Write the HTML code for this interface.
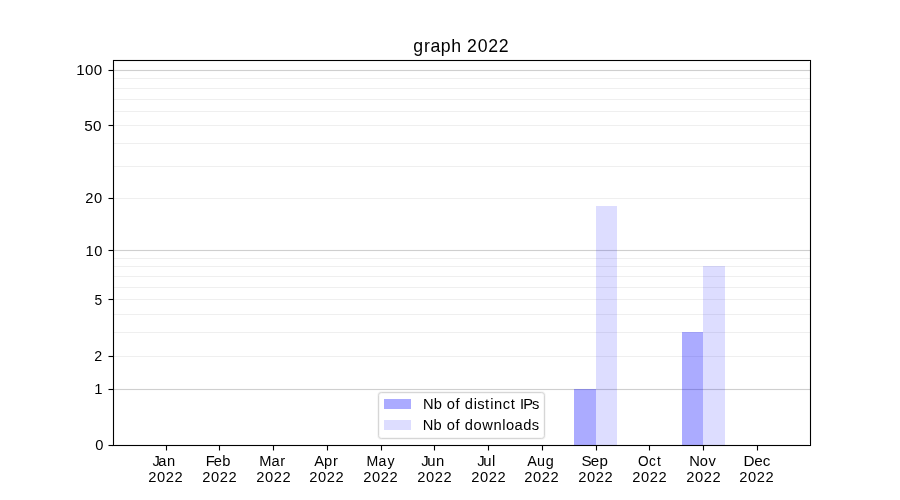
<!DOCTYPE html>
<html><head><meta charset="utf-8"><title>graph 2022</title>
<style>
html,body{margin:0;padding:0;background:#fff;width:900px;height:500px;overflow:hidden}
svg{display:block;will-change:transform}
text{font-family:"Liberation Sans",sans-serif;fill:#000}
</style></head>
<body>
<svg width="900" height="500" viewBox="0 0 900 500" shape-rendering="crispEdges">
<rect x="0" y="0" width="900" height="500" fill="#fff"/>
<rect x="114" y="78" width="696" height="1" fill="#efefef"/>
<rect x="114" y="88" width="696" height="1" fill="#efefef"/>
<rect x="114" y="99" width="696" height="1" fill="#efefef"/>
<rect x="114" y="111" width="696" height="1" fill="#efefef"/>
<rect x="114" y="125" width="696" height="1" fill="#efefef"/>
<rect x="114" y="143" width="696" height="1" fill="#efefef"/>
<rect x="114" y="166" width="696" height="1" fill="#efefef"/>
<rect x="114" y="198" width="696" height="1" fill="#efefef"/>
<rect x="114" y="258" width="696" height="1" fill="#efefef"/>
<rect x="114" y="266" width="696" height="1" fill="#efefef"/>
<rect x="114" y="276" width="696" height="1" fill="#efefef"/>
<rect x="114" y="287" width="696" height="1" fill="#efefef"/>
<rect x="114" y="299" width="696" height="1" fill="#efefef"/>
<rect x="114" y="314" width="696" height="1" fill="#efefef"/>
<rect x="114" y="332" width="696" height="1" fill="#efefef"/>
<rect x="114" y="356" width="696" height="1" fill="#efefef"/>
<rect x="114" y="69" width="696" height="1" fill="#fcfcfc"/>
<rect x="114" y="70" width="696" height="1" fill="#cfcfcf"/>
<rect x="114" y="71" width="696" height="1" fill="#fcfcfc"/>
<rect x="114" y="249" width="696" height="1" fill="#fcfcfc"/>
<rect x="114" y="250" width="696" height="1" fill="#cfcfcf"/>
<rect x="114" y="251" width="696" height="1" fill="#fcfcfc"/>
<rect x="114" y="388" width="696" height="1" fill="#fcfcfc"/>
<rect x="114" y="389" width="696" height="1" fill="#cfcfcf"/>
<rect x="114" y="390" width="696" height="1" fill="#fcfcfc"/>
<rect x="574" y="389" width="22" height="56" fill="#0000ff" fill-opacity="0.33"/>
<rect x="596" y="206" width="21" height="239" fill="#0000ff" fill-opacity="0.133"/>
<rect x="682" y="332" width="21" height="113" fill="#0000ff" fill-opacity="0.33"/>
<rect x="703" y="266" width="22" height="179" fill="#0000ff" fill-opacity="0.133"/>
<rect x="113" y="59" width="698" height="1" fill="#000" fill-opacity="0.055"/>
<rect x="114" y="61" width="695" height="1" fill="#000" fill-opacity="0.055"/>
<rect x="114" y="444" width="695" height="1" fill="#000" fill-opacity="0.055"/>
<rect x="113" y="446" width="698" height="1" fill="#000" fill-opacity="0.055"/>
<rect x="112" y="60" width="1" height="386" fill="#000" fill-opacity="0.055"/>
<rect x="114" y="62" width="1" height="382" fill="#000" fill-opacity="0.055"/>
<rect x="809" y="62" width="1" height="382" fill="#000" fill-opacity="0.055"/>
<rect x="811" y="60" width="1" height="386" fill="#000" fill-opacity="0.055"/>
<rect x="113" y="60" width="698" height="1" fill="#000"/>
<rect x="113" y="445" width="698" height="1" fill="#000"/>
<rect x="113" y="60" width="1" height="386" fill="#000"/>
<rect x="810" y="60" width="1" height="386" fill="#000"/>
<rect x="109" y="69" width="3" height="1" fill="#f1f1f1"/>
<rect x="109" y="71" width="3" height="1" fill="#f1f1f1"/>
<rect x="112" y="69" width="1" height="1" fill="#e3e3e3"/>
<rect x="112" y="71" width="1" height="1" fill="#e3e3e3"/>
<rect x="108" y="69" width="1" height="1" fill="#f8f8f8"/>
<rect x="108" y="71" width="1" height="1" fill="#f8f8f8"/>
<rect x="109" y="70" width="4" height="1" fill="#000"/>
<rect x="108" y="70" width="1" height="1" fill="#7f7f7f"/>
<rect x="109" y="124" width="3" height="1" fill="#f1f1f1"/>
<rect x="109" y="126" width="3" height="1" fill="#f1f1f1"/>
<rect x="112" y="124" width="1" height="1" fill="#e3e3e3"/>
<rect x="112" y="126" width="1" height="1" fill="#e3e3e3"/>
<rect x="108" y="124" width="1" height="1" fill="#f8f8f8"/>
<rect x="108" y="126" width="1" height="1" fill="#f8f8f8"/>
<rect x="109" y="125" width="4" height="1" fill="#000"/>
<rect x="108" y="125" width="1" height="1" fill="#7f7f7f"/>
<rect x="109" y="197" width="3" height="1" fill="#f1f1f1"/>
<rect x="109" y="199" width="3" height="1" fill="#f1f1f1"/>
<rect x="112" y="197" width="1" height="1" fill="#e3e3e3"/>
<rect x="112" y="199" width="1" height="1" fill="#e3e3e3"/>
<rect x="108" y="197" width="1" height="1" fill="#f8f8f8"/>
<rect x="108" y="199" width="1" height="1" fill="#f8f8f8"/>
<rect x="109" y="198" width="4" height="1" fill="#000"/>
<rect x="108" y="198" width="1" height="1" fill="#7f7f7f"/>
<rect x="109" y="249" width="3" height="1" fill="#f1f1f1"/>
<rect x="109" y="251" width="3" height="1" fill="#f1f1f1"/>
<rect x="112" y="249" width="1" height="1" fill="#e3e3e3"/>
<rect x="112" y="251" width="1" height="1" fill="#e3e3e3"/>
<rect x="108" y="249" width="1" height="1" fill="#f8f8f8"/>
<rect x="108" y="251" width="1" height="1" fill="#f8f8f8"/>
<rect x="109" y="250" width="4" height="1" fill="#000"/>
<rect x="108" y="250" width="1" height="1" fill="#7f7f7f"/>
<rect x="109" y="298" width="3" height="1" fill="#f1f1f1"/>
<rect x="109" y="300" width="3" height="1" fill="#f1f1f1"/>
<rect x="112" y="298" width="1" height="1" fill="#e3e3e3"/>
<rect x="112" y="300" width="1" height="1" fill="#e3e3e3"/>
<rect x="108" y="298" width="1" height="1" fill="#f8f8f8"/>
<rect x="108" y="300" width="1" height="1" fill="#f8f8f8"/>
<rect x="109" y="299" width="4" height="1" fill="#000"/>
<rect x="108" y="299" width="1" height="1" fill="#7f7f7f"/>
<rect x="109" y="355" width="3" height="1" fill="#f1f1f1"/>
<rect x="109" y="357" width="3" height="1" fill="#f1f1f1"/>
<rect x="112" y="355" width="1" height="1" fill="#e3e3e3"/>
<rect x="112" y="357" width="1" height="1" fill="#e3e3e3"/>
<rect x="108" y="355" width="1" height="1" fill="#f8f8f8"/>
<rect x="108" y="357" width="1" height="1" fill="#f8f8f8"/>
<rect x="109" y="356" width="4" height="1" fill="#000"/>
<rect x="108" y="356" width="1" height="1" fill="#7f7f7f"/>
<rect x="109" y="388" width="3" height="1" fill="#f1f1f1"/>
<rect x="109" y="390" width="3" height="1" fill="#f1f1f1"/>
<rect x="112" y="388" width="1" height="1" fill="#e3e3e3"/>
<rect x="112" y="390" width="1" height="1" fill="#e3e3e3"/>
<rect x="108" y="388" width="1" height="1" fill="#f8f8f8"/>
<rect x="108" y="390" width="1" height="1" fill="#f8f8f8"/>
<rect x="109" y="389" width="4" height="1" fill="#000"/>
<rect x="108" y="389" width="1" height="1" fill="#7f7f7f"/>
<rect x="109" y="444" width="3" height="1" fill="#f1f1f1"/>
<rect x="109" y="446" width="3" height="1" fill="#f1f1f1"/>
<rect x="112" y="444" width="1" height="1" fill="#e3e3e3"/>
<rect x="112" y="446" width="1" height="1" fill="#e3e3e3"/>
<rect x="108" y="444" width="1" height="1" fill="#f8f8f8"/>
<rect x="108" y="446" width="1" height="1" fill="#f8f8f8"/>
<rect x="109" y="445" width="4" height="1" fill="#000"/>
<rect x="108" y="445" width="1" height="1" fill="#7f7f7f"/>
<rect x="165" y="447" width="1" height="3" fill="#f1f1f1"/>
<rect x="167" y="447" width="1" height="3" fill="#f1f1f1"/>
<rect x="165" y="446" width="1" height="1" fill="#e3e3e3"/>
<rect x="167" y="446" width="1" height="1" fill="#e3e3e3"/>
<rect x="165" y="450" width="1" height="1" fill="#f8f8f8"/>
<rect x="167" y="450" width="1" height="1" fill="#f8f8f8"/>
<rect x="166" y="446" width="1" height="4" fill="#000"/>
<rect x="166" y="450" width="1" height="1" fill="#7f7f7f"/>
<rect x="218" y="447" width="1" height="3" fill="#f1f1f1"/>
<rect x="220" y="447" width="1" height="3" fill="#f1f1f1"/>
<rect x="218" y="446" width="1" height="1" fill="#e3e3e3"/>
<rect x="220" y="446" width="1" height="1" fill="#e3e3e3"/>
<rect x="218" y="450" width="1" height="1" fill="#f8f8f8"/>
<rect x="220" y="450" width="1" height="1" fill="#f8f8f8"/>
<rect x="219" y="446" width="1" height="4" fill="#000"/>
<rect x="219" y="450" width="1" height="1" fill="#7f7f7f"/>
<rect x="272" y="447" width="1" height="3" fill="#f1f1f1"/>
<rect x="274" y="447" width="1" height="3" fill="#f1f1f1"/>
<rect x="272" y="446" width="1" height="1" fill="#e3e3e3"/>
<rect x="274" y="446" width="1" height="1" fill="#e3e3e3"/>
<rect x="272" y="450" width="1" height="1" fill="#f8f8f8"/>
<rect x="274" y="450" width="1" height="1" fill="#f8f8f8"/>
<rect x="273" y="446" width="1" height="4" fill="#000"/>
<rect x="273" y="450" width="1" height="1" fill="#7f7f7f"/>
<rect x="326" y="447" width="1" height="3" fill="#f1f1f1"/>
<rect x="328" y="447" width="1" height="3" fill="#f1f1f1"/>
<rect x="326" y="446" width="1" height="1" fill="#e3e3e3"/>
<rect x="328" y="446" width="1" height="1" fill="#e3e3e3"/>
<rect x="326" y="450" width="1" height="1" fill="#f8f8f8"/>
<rect x="328" y="450" width="1" height="1" fill="#f8f8f8"/>
<rect x="327" y="446" width="1" height="4" fill="#000"/>
<rect x="327" y="450" width="1" height="1" fill="#7f7f7f"/>
<rect x="380" y="447" width="1" height="3" fill="#f1f1f1"/>
<rect x="382" y="447" width="1" height="3" fill="#f1f1f1"/>
<rect x="380" y="446" width="1" height="1" fill="#e3e3e3"/>
<rect x="382" y="446" width="1" height="1" fill="#e3e3e3"/>
<rect x="380" y="450" width="1" height="1" fill="#f8f8f8"/>
<rect x="382" y="450" width="1" height="1" fill="#f8f8f8"/>
<rect x="381" y="446" width="1" height="4" fill="#000"/>
<rect x="381" y="450" width="1" height="1" fill="#7f7f7f"/>
<rect x="433" y="447" width="1" height="3" fill="#f1f1f1"/>
<rect x="435" y="447" width="1" height="3" fill="#f1f1f1"/>
<rect x="433" y="446" width="1" height="1" fill="#e3e3e3"/>
<rect x="435" y="446" width="1" height="1" fill="#e3e3e3"/>
<rect x="433" y="450" width="1" height="1" fill="#f8f8f8"/>
<rect x="435" y="450" width="1" height="1" fill="#f8f8f8"/>
<rect x="434" y="446" width="1" height="4" fill="#000"/>
<rect x="434" y="450" width="1" height="1" fill="#7f7f7f"/>
<rect x="487" y="447" width="1" height="3" fill="#f1f1f1"/>
<rect x="489" y="447" width="1" height="3" fill="#f1f1f1"/>
<rect x="487" y="446" width="1" height="1" fill="#e3e3e3"/>
<rect x="489" y="446" width="1" height="1" fill="#e3e3e3"/>
<rect x="487" y="450" width="1" height="1" fill="#f8f8f8"/>
<rect x="489" y="450" width="1" height="1" fill="#f8f8f8"/>
<rect x="488" y="446" width="1" height="4" fill="#000"/>
<rect x="488" y="450" width="1" height="1" fill="#7f7f7f"/>
<rect x="541" y="447" width="1" height="3" fill="#f1f1f1"/>
<rect x="543" y="447" width="1" height="3" fill="#f1f1f1"/>
<rect x="541" y="446" width="1" height="1" fill="#e3e3e3"/>
<rect x="543" y="446" width="1" height="1" fill="#e3e3e3"/>
<rect x="541" y="450" width="1" height="1" fill="#f8f8f8"/>
<rect x="543" y="450" width="1" height="1" fill="#f8f8f8"/>
<rect x="542" y="446" width="1" height="4" fill="#000"/>
<rect x="542" y="450" width="1" height="1" fill="#7f7f7f"/>
<rect x="595" y="447" width="1" height="3" fill="#f1f1f1"/>
<rect x="597" y="447" width="1" height="3" fill="#f1f1f1"/>
<rect x="595" y="446" width="1" height="1" fill="#e3e3e3"/>
<rect x="597" y="446" width="1" height="1" fill="#e3e3e3"/>
<rect x="595" y="450" width="1" height="1" fill="#f8f8f8"/>
<rect x="597" y="450" width="1" height="1" fill="#f8f8f8"/>
<rect x="596" y="446" width="1" height="4" fill="#000"/>
<rect x="596" y="450" width="1" height="1" fill="#7f7f7f"/>
<rect x="648" y="447" width="1" height="3" fill="#f1f1f1"/>
<rect x="650" y="447" width="1" height="3" fill="#f1f1f1"/>
<rect x="648" y="446" width="1" height="1" fill="#e3e3e3"/>
<rect x="650" y="446" width="1" height="1" fill="#e3e3e3"/>
<rect x="648" y="450" width="1" height="1" fill="#f8f8f8"/>
<rect x="650" y="450" width="1" height="1" fill="#f8f8f8"/>
<rect x="649" y="446" width="1" height="4" fill="#000"/>
<rect x="649" y="450" width="1" height="1" fill="#7f7f7f"/>
<rect x="702" y="447" width="1" height="3" fill="#f1f1f1"/>
<rect x="704" y="447" width="1" height="3" fill="#f1f1f1"/>
<rect x="702" y="446" width="1" height="1" fill="#e3e3e3"/>
<rect x="704" y="446" width="1" height="1" fill="#e3e3e3"/>
<rect x="702" y="450" width="1" height="1" fill="#f8f8f8"/>
<rect x="704" y="450" width="1" height="1" fill="#f8f8f8"/>
<rect x="703" y="446" width="1" height="4" fill="#000"/>
<rect x="703" y="450" width="1" height="1" fill="#7f7f7f"/>
<rect x="756" y="447" width="1" height="3" fill="#f1f1f1"/>
<rect x="758" y="447" width="1" height="3" fill="#f1f1f1"/>
<rect x="756" y="446" width="1" height="1" fill="#e3e3e3"/>
<rect x="758" y="446" width="1" height="1" fill="#e3e3e3"/>
<rect x="756" y="450" width="1" height="1" fill="#f8f8f8"/>
<rect x="758" y="450" width="1" height="1" fill="#f8f8f8"/>
<rect x="757" y="446" width="1" height="4" fill="#000"/>
<rect x="757" y="450" width="1" height="1" fill="#7f7f7f"/>
<rect x="378.5" y="392.5" width="166" height="46" rx="2.8" ry="2.8" fill="#fff" stroke="#f7f7f7" stroke-width="3" shape-rendering="geometricPrecision"/>
<rect x="378.5" y="392.5" width="166" height="46" rx="2.8" ry="2.8" fill="none" stroke="#d6d6d6" stroke-width="1" shape-rendering="geometricPrecision"/>
<rect x="384" y="399" width="27" height="10" fill="#0000ff" fill-opacity="0.33"/>
<rect x="384" y="420" width="27" height="10" fill="#0000ff" fill-opacity="0.133"/>
<text x="418.22 426.86 435.41 445.72 456.21 464.08 471.98 482.61 493.11 503.73" y="52" text-anchor="middle" font-size="17.7">graph 2022</text>
<text x="99.26" y="450" text-anchor="middle" font-size="14.7">0</text>
<text x="97.40" y="394" text-anchor="middle" font-size="14.7" transform="scale(1.0100,1)">1</text>
<text x="101.14" y="361" text-anchor="middle" font-size="14.7" transform="scale(0.9700,1)">2</text>
<text x="104.53" y="305" text-anchor="middle" font-size="14.7" transform="scale(0.9400,1)">5</text>
<text x="89.54 98.42" y="256" text-anchor="middle" font-size="14.7">10</text>
<text x="89.23 97.98" y="203" text-anchor="middle" font-size="14.7">20</text>
<text x="86.69 95.27" y="131" text-anchor="middle" font-size="14.994" transform="scale(1.0200,1)">50</text>
<text x="78.05 86.67 95.16" y="75" text-anchor="middle" font-size="14.7" transform="scale(1.0300,1)">100</text>
<text x="156.05 162.25 171.02" y="466" text-anchor="middle" font-size="14.7">Jan</text>
<text x="152.35 161.10 169.85 178.60" y="482" text-anchor="middle" font-size="14.7">2022</text>
<text x="214.50 222.18 230.99" y="466" text-anchor="middle" font-size="14.994" transform="scale(0.9800,1)">Feb</text>
<text x="206.28 215.03 223.78 232.53" y="482" text-anchor="middle" font-size="14.7">2022</text>
<text x="265.27 275.54 282.76" y="466" text-anchor="middle" font-size="14.7">Mar</text>
<text x="260.24 268.99 277.74 286.49" y="482" text-anchor="middle" font-size="14.7">2022</text>
<text x="319.05 328.20 335.53" y="466" text-anchor="middle" font-size="14.7">Apr</text>
<text x="313.23 321.98 330.73 339.48" y="482" text-anchor="middle" font-size="14.7">2022</text>
<text x="372.29 382.55 391.03" y="466" text-anchor="middle" font-size="14.112">May</text>
<text x="367.30 376.05 384.80 393.55" y="482" text-anchor="middle" font-size="14.7">2022</text>
<text x="420.84 427.12 435.79" y="466" text-anchor="middle" font-size="14.7" transform="scale(1.0100,1)">Jun</text>
<text x="421.26 430.01 438.76 447.51" y="482" text-anchor="middle" font-size="14.7">2022</text>
<text x="495.81 502.36 508.83" y="466" text-anchor="middle" font-size="15.288" transform="scale(0.9700,1)">Jul</text>
<text x="475.33 484.08 492.83 501.58" y="482" text-anchor="middle" font-size="14.7">2022</text>
<text x="531.96 541.11 549.87" y="466" text-anchor="middle" font-size="14.406">Aug</text>
<text x="528.36 537.11 545.86 554.61" y="482" text-anchor="middle" font-size="14.7">2022</text>
<text x="569.39 577.76 586.14" y="466" text-anchor="middle" font-size="14.7" transform="scale(1.0300,1)">Sep</text>
<text x="582.25 591.00 599.75 608.50" y="482" text-anchor="middle" font-size="14.7">2022</text>
<text x="706.85 716.99 724.16" y="466" text-anchor="middle" font-size="14.994" transform="scale(0.9100,1)">Oct</text>
<text x="636.36 645.11 653.86 662.61" y="482" text-anchor="middle" font-size="14.7">2022</text>
<text x="708.68 718.30 726.83" y="466" text-anchor="middle" font-size="14.994" transform="scale(0.9800,1)">Nov</text>
<text x="690.26 699.01 707.76 716.51" y="482" text-anchor="middle" font-size="14.7">2022</text>
<text x="720.15 729.45 737.19" y="466" text-anchor="middle" font-size="14.7" transform="scale(1.0400,1)">Dec</text>
<text x="743.33 752.08 760.83 769.58" y="482" text-anchor="middle" font-size="14.7">2022</text>
<text x="428.21 437.80 444.48 450.89 457.59 462.35 468.92 475.32 480.88 487.12 491.82 498.17 506.33 512.87 517.85 522.07 528.20 535.76" y="409" text-anchor="middle" font-size="14.7">Nb of distinct IPs</text>
<text x="428.12 437.71 444.39 450.80 457.50 462.26 468.83 477.55 487.48 497.58 503.86 510.05 518.56 527.33 535.42" y="430" text-anchor="middle" font-size="14.7">Nb of downloads</text>
</svg>
</body></html>
